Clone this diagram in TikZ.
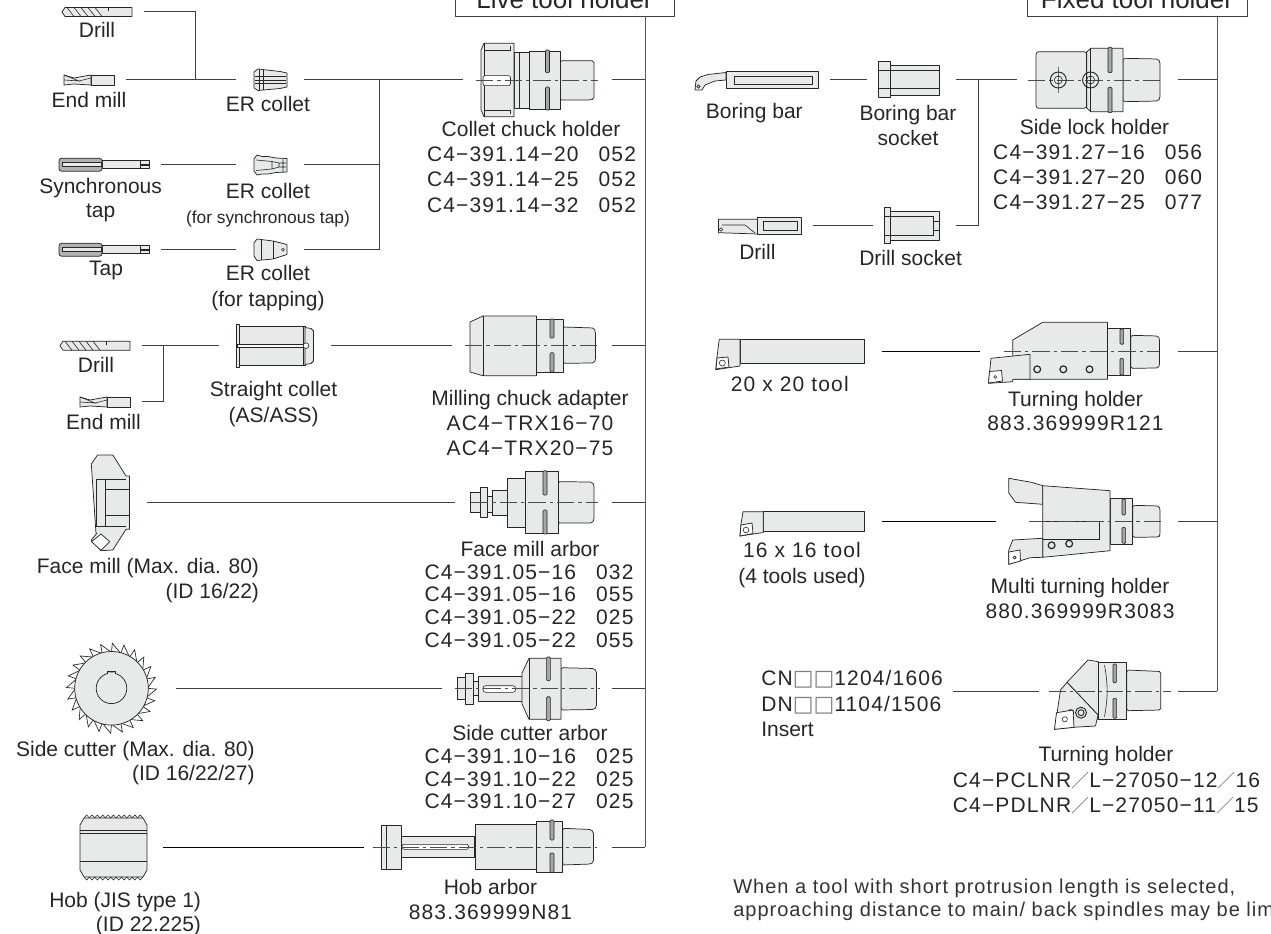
\documentclass[tikz,border=0pt]{standalone}
\usepackage{fontspec}
\setmainfont{Liberation Sans}
\newfontfamily\cjkf{Noto Sans CJK JP}
\newfontfamily\djv{DejaVu Sans}
\newfontfamily\codef[LetterSpace=5.5]{Liberation Sans}
\newfontfamily\notef[LetterSpace=5]{Liberation Sans}
\definecolor{partfill}{HTML}{E8EAEA}
\definecolor{inkc}{HTML}{262626}
\tikzset{
  part/.style={draw=inkc,fill=partfill,line width=.55pt,line join=round},
  edge/.style={draw=inkc,line width=.45pt},
  slot/.style={draw=inkc,fill=black!35,line width=.45pt,rounded corners=.8pt},
  cl/.style={draw=black!70,line width=.5pt,dash pattern=on 13pt off 3pt on 2.5pt off 3pt},
  conn/.style={draw=black!75,line width=.75pt},
  trunk/.style={draw=black!65,line width=.9pt},
  hubn/.style={inner sep=0pt,outer sep=0pt,minimum height=0pt,draw=none,fill=none},
  lab/.style={inner sep=0pt,outer sep=0pt,text=black!85},
  hdr/.style={draw=black!75,line width=.6pt,anchor=south,text height=30pt,text depth=5.6pt,inner ysep=0pt,inner xsep=0pt,font=\fontsize{19.5}{22}\selectfont,text=black!85}
}
\newcommand\Hub[4]{\node[hubn,minimum width={(#3-#2)*0.75pt}] (#1) at ({(#2+#3)/2},#4) {};}
\newcommand\Lab[5][center]{\node[lab,align=#1,font=\fontsize{15.75}{#2}\selectfont] (#3) at #4 {#5};}
\newcommand\Cd[2]{{\codef #1\hspace{.95em}#2}}
\newcommand\Cf[1]{{\codef #1}}
\newcommand\Sl{{\cjkf\fontsize{13.5}{14}\selectfont\color{black!55}／}}
\newcommand\Sq{{\djv\fontsize{16.5}{18}\selectfont\color{black!50}□}}
\newcommand\DrillIcon[1]{\begin{scope}[shift={#1}]
  \path[part] (0,0)--(3,-4.5)--(70,-4.5)--(70,4.5)--(3,4.5)--cycle;
  \foreach \a in {5,12,19,26,33}{\draw[edge] (\a,-4.5)--(\a+7,4.5);}
  \draw[edge] (46,-4.5)--(46,-1);
\end{scope}}
\newcommand\MillIcon[1]{\begin{scope}[shift={#1}]
  \path[part] (27,-5) rectangle (50,5);
  \path[part] (0,-5)--(10,-2)--(27,-5)--(27,5)--(10,4)--(0,5)--cycle;
  \draw[edge] (0,-5)--(15,1)--(0,0);
  \draw[edge] (15,1)--(27,-2);
\end{scope}}
\newcommand\TapIcon[1]{\begin{scope}[shift={#1}]
  \path[part] (43,-4) rectangle (90,4);
  \path[part,rounded corners=2pt,fill=black!30] (0,-6.5) rectangle (43,6.5);
  \path[part,fill=partfill] (3,-2) rectangle (42,2);
  \draw[edge] (81,-4)--(81,4);
  \path[part,fill=black!60] (81,-.7) rectangle (90,.7);
\end{scope}}
\begin{document}
\begin{tikzpicture}[x=0.75pt,y=-0.75pt]
\useasboundingbox (0,0) rectangle (1271,934);
\clip (0,0) rectangle (1271,934);
\fill[white] (0,0) rectangle (1271,934);
%% ---------- hubs
\Hub{drillA}{60}{143.5}{12}
\Hub{millA}{60}{126}{80}
\Hub{colletA}{236}{304}{80}
\Hub{tapA}{59}{161}{164.7}
\Hub{colletB}{236}{304}{164.7}
\Hub{tapB}{59}{161}{249.7}
\Hub{colletC}{236}{304}{249.7}
\Hub{chuck}{463}{611.5}{80}
\Hub{drillB}{60}{141.5}{345.7}
\Hub{millB}{80}{141.5}{401.7}
\Hub{scollet}{219}{331}{345.7}
\Hub{adapter}{452}{611.5}{345.7}
\Hub{fmill}{91}{146.5}{502.3}
\Hub{fmarbor}{454.5}{611.5}{502.3}
\Hub{scut}{67}{176}{688.3}
\Hub{scarbor}{442}{611.5}{688.3}
\Hub{hob}{80}{163}{847}
\Hub{hobarbor}{364}{611.5}{847}
\Hub{bbar}{695}{829.5}{80}
\Hub{bsock}{867.3}{955.8}{80}
\Hub{slock}{1016.6}{1177.5}{80}
\Hub{drillC}{718.5}{812.8}{225.7}
\Hub{dsock}{873}{955.8}{225.7}
\Hub{toolT}{719}{881.7}{351.3}
\Hub{tholder}{979.6}{1177.5}{351.3}
\Hub{toolS}{740}{881.7}{521}
\Hub{mholder}{996}{1177.5}{521}
\Hub{insert}{761}{953}{691}
\Hub{pholder}{1038.8}{1178.3}{691}
\coordinate (liveEnd) at (645.3,847);
\coordinate (fixEnd) at (1217.3,691);
\coordinate (jA) at (195.7,80);
\coordinate (jB) at (379,80);
\coordinate (jC) at (163,345.7);
\coordinate (jD) at (978.8,80);
%% ---------- headers
\node[hdr,minimum width=164.25pt] (liveBox) at (564.5,16.5) {Live tool holder};
\node[hdr,minimum width=165pt] (fixBox) at (1137,16.7) {Fixed tool holder};
%% ---------- connectors
\draw[trunk] (liveBox.south -| liveEnd) -- (liveEnd);
\draw[trunk] (fixBox.south -| fixEnd) -- (fixEnd);
\draw[conn] (hobarbor.east) -- (liveEnd);
\draw[conn] (pholder.east) -- (fixEnd);
\draw[conn] (drillA.east) -| (jA);
\draw[conn] (millA.east) -- (colletA.west);
\draw[conn] (colletA.east) -- (chuck.west);
\draw[conn] (chuck.east) -- (chuck.east -| liveEnd);
\draw[conn] (tapA.east) -- (colletB.west);
\draw[conn] (tapB.east) -- (colletC.west);
\draw[conn] (colletB.east) -- (colletB.east -| jB);
\draw[conn] (colletC.east) -| (jB);
\draw[conn] (drillB.east) -- (scollet.west);
\draw[conn] (millB.east) -| (jC);
\draw[conn] (scollet.east) -- (adapter.west);
\draw[conn] (adapter.east) -- (adapter.east -| liveEnd);
\draw[conn] (fmill.east) -- (fmarbor.west);
\draw[conn] (fmarbor.east) -- (fmarbor.east -| liveEnd);
\draw[conn] (scut.east) -- (scarbor.west);
\draw[conn] (scarbor.east) -- (scarbor.east -| liveEnd);
\draw[conn,draw=black] (hob.east) -- (hobarbor.west);
\draw[conn] (bbar.east) -- (bsock.west);
\draw[conn] (bsock.east) -- (slock.west);
\draw[conn] (slock.east) -- (slock.east -| fixEnd);
\draw[conn] (drillC.east) -- (dsock.west);
\draw[conn] (dsock.east) -| (jD);
\draw[conn,draw=black] (toolT.east) -- (tholder.west);
\draw[conn] (tholder.east) -- (tholder.east -| fixEnd);
\draw[conn,draw=black] (toolS.east) -- (mholder.west);
\draw[conn] (mholder.east) -- (mholder.east -| fixEnd);
\draw[conn] (insert.east) -- (pholder.west);
%% ---------- left tools
\DrillIcon{(62,12)}
\MillIcon{(64,80)}
\TapIcon{(59,164.7)}
\TapIcon{(59,249.7)}
\DrillIcon{(60,345.7)}
\MillIcon{(80,402)}
% ER collets
\path[part] (254,72)--(258,69)--(280,71.5)--(287,73)--(287,87)--(280,88.5)--(258,90.5)--(254,88)--cycle;
\draw[edge] (255,76.5)--(286,76.5) (255,80)--(286,80) (255,83.5)--(286,83.5) (259,69.5)--(259,90) (263,70)--(263,90);
\path[part] (254,159)--(257,155)--(262,156.5)--(268,156.5)--(276,158)--(287,158.5)--(287,172)--(276,172.5)--(268,174)--(262,174)--(257,175)--(254,171)--cycle;
\draw[edge] (256,160)--(272,161.5)--(279,163)--(279,167)--(272,169)--(256,170.5) (272,161.5)--(272,169) (279,163)--(286,163) (279,167)--(286,167) (283,159)--(283,172);
\path[part] (254,243)--(257,239)--(273,241)--(287,244.5)--(287,254.5)--(273,259)--(257,260.5)--(254,256)--cycle;
\draw[edge] (261,240)--(261,260) (273,241)--(273,259);
\draw[edge] (283,249.7) circle[radius=1.5];
% straight collet
\path[part] (239.5,326.7) rectangle (305,365);
\path[part] (305,327.5)--(311,328.5)--(313.5,331)--(313.5,361)--(311,363.5)--(305,364.5)--cycle;
\path[part] (236.5,324.7) rectangle (239.5,367.3);
\draw[edge,fill=white] (237,344.5) rectangle (303,347);
\draw[edge,fill=white] (306,345.7) circle[radius=2.8];
\draw[edge] (303,327)--(303,344.5) (303,347)--(303,365);
% face mill
\path[part] (91.3,464)--(97.6,455)--(112.8,455)--(126,476)--(129.6,476)--(129.6,529.3)--(126,529.3)--(112.8,550)--(101,550.7)--(91.3,540)--(96.8,533.3)--(96,533.3)--cycle;
\draw[edge] (96,479.3) rectangle (105.2,526);
\draw[edge] (105.2,489.3)--(129.6,489.3) (105.2,515.7)--(129.6,515.7) (105.2,479.3)--(126,479.3) (105.2,526)--(126,526);
\draw[part,fill=white] (101,534)--(109.7,541.7)--(101,550.3)--(91.5,541.7)--cycle;
% side cutter
\begin{scope}[shift={(111.5,688.3)}]
  \foreach \a in {0,15,...,345}{\draw[draw=inkc,line width=.5pt,fill=white] (\a:36)--(\a+1:45)--(\a+15:36);}
  \path[part] (0,0) circle[radius=36.8];
  \path[part] (-4,-14) -- (-4,-16.5) -- (4,-16.5) -- (4,-14) -- (0,-12) -- cycle;
  \path[part] (0,0) circle[radius=15.3];
  \path[fill=partfill] (-3.6,-13) rectangle (3.6,-15.8);
  \draw[edge] (-3.9,-14.6)--(-3.9,-16.8)--(3.9,-16.8)--(3.9,-14.6);
\end{scope}
% hob
\path[part] (80,825)--(84,818)--(143,818)--(147,825)--(147,870)--(143,877)--(84,877)--(80,870)--cycle;
\foreach \i in {0,...,10}{\draw[edge] ({84+5.36*\i},818)--+(2.68,-3)--+(5.36,0); \draw[edge] ({84+5.36*\i},877)--+(2.68,3)--+(5.36,0);}
\draw[edge,line width=.6pt] (80,830)--(147,830) (80,833.3)--(147,833.3);
\draw[edge,line width=.7pt] (80,861.7)--(147,861.7);
%% ---------- collet chuck holder
\path[part,rounded corners=1.2pt] (594,61)--(594,99)--(590,100)--(560,100)--(560,60.7)--(590,60.7)--cycle;
\path[part] (529,51) rectangle (560,109);
\path[part] (514,52) rectangle (529,108);
\draw[edge] (519,52)--(519,108);
\path[part] (481,50)--(484,43.3)--(514,43.3)--(514,116.7)--(484,116.7)--(481,110)--cycle;
\draw[edge] (484,43.3)--(484,116.7) (484,50)--(510.5,50)--(510.5,46) (484,110)--(510.5,110)--(510.5,114);
\draw[edge,fill=white,rounded corners=1.5pt] (483,75.7) rectangle (510.5,85.7);
\path[slot] (545.5,50) rectangle (549.5,72.7);
\path[slot] (545.5,87) rectangle (549.5,110);
\draw[cl] (476,80)--(598,80);
%% ---------- milling chuck adapter
\path[part,rounded corners=1.2pt] (563,327)--(594,328)--(595.5,332)--(595.5,360)--(594,363)--(563,363.3)--cycle;
\path[part] (536.6,319) rectangle (563,372);
\path[part] (470,322)--(483,316)--(536.6,316)--(536.6,375.7)--(483,375.7)--(470,372)--cycle;
\draw[edge] (483,316)--(483,375.7);
\path[slot] (550,319) rectangle (554,338);
\path[slot] (550,352.7) rectangle (554,372);
\draw[cl] (465,345.7)--(598,345.7);
%% ---------- face mill arbor
\path[part,rounded corners=1.2pt] (558,481.7)--(592,482)--(594,485)--(594,520)--(592,523)--(558,523)--cycle;
\path[part] (492,490) rectangle (507,515);
\path[part] (507,478) rectangle (525,527);
\path[part] (525,471.7) rectangle (558,533);
\path[part] (470.5,492.7) rectangle (480,512.3);
\path[part] (480,487.7) rectangle (487,517.7);
\path[part] (487,496) rectangle (492,512);
\path[slot] (543,470.7) rectangle (547,495);
\path[slot] (543,510) rectangle (547,534);
\draw[cl] (471,502.3)--(598,502.3);
%% ---------- side cutter arbor
\path[part,rounded corners=1.2pt] (561,667.7)--(594,668.5)--(596.4,671)--(596.4,707)--(594,709.5)--(561,710)--cycle;
\path[part] (478.5,676) rectangle (522,701);
\path[part] (522,673)--(529,658.3)--(561,658.3)--(561,719.3)--(529,719.3)--(522,704)--cycle;
\draw[edge] (529,658.3)--(529,719.3);
\path[part] (473.5,681.7) rectangle (478.5,695);
\path[part] (465,673) rectangle (473.5,704);
\path[part] (457.5,677.7) rectangle (465,699.3);
\draw[edge,fill=white,rounded corners=2pt] (483,685.7) rectangle (515.6,692.3);
\path[slot] (546.4,657) rectangle (550.4,680.7);
\path[slot] (546.4,696.7) rectangle (550.4,720.7);
\draw[cl] (454.5,688.3)--(600,688.3);
%% ---------- hob arbor
\path[part,rounded corners=1.2pt] (562.7,828.3)--(591,829.5)--(593.4,832)--(593.4,862)--(591,864)--(562.7,865)--cycle;
\path[part] (401,836.7) rectangle (474.3,857.3);
\path[part] (381.7,825) rectangle (401,869);
\draw[edge] (386,825)--(386,869);
\path[part] (475.6,824.3) rectangle (536.6,869.3);
\path[part] (536.6,821) rectangle (562.7,872.3);
\draw[edge,fill=white,rounded corners=1.5pt] (402,844.3) rectangle (468.5,849.3);
\path[slot] (550,820) rectangle (554,840);
\path[slot] (550,853) rectangle (554,872.3);
\draw[cl] (372.5,847)--(597,847);
%% ---------- boring bar + sockets
\path[part] (726,71.7) rectangle (818,88.3);
\draw[edge] (734,76) rectangle (812,84);
\path[part] (726,72.5)--(708,74.5)--(700,77)--(696,81)--(695,90)--(702,90)--(705,85)--(715,81)--(726,80)--cycle;
\draw[edge] (698.5,86.5) circle[radius=1.6];
\path[part] (890,65) rectangle (939,95);
\path[part] (878,61.7)--(890,61.7)--(890,97.7)--(878,97.7)--cycle;
\draw[edge] (878,70.7)--(939,70.7) (878,88.7)--(939,88.7);
\path[part] (757.4,217.3) rectangle (801,234.3);
\draw[edge] (763,221.7) rectangle (797,230);
\path[part] (718.5,219.3)--(757.4,219.3)--(757.4,234)--(718.5,232.7)--cycle;
\draw[edge] (722,225)--(745,225)--(755,233);
\draw[edge] (721,229.5) circle[radius=1.8];
\path[part] (884.5,207.7) rectangle (890.7,243.3);
\path[part] (890.7,211) rectangle (939,240.7);
\draw[edge] (884.5,216.7)--(932.8,216.7)--(932.8,235)--(884.5,235);
\draw[edge] (932.8,221.7)--(939,221.7) (932.8,230)--(939,230);
%% ---------- side lock holder
\path[part,rounded corners=1.2pt] (1123,58.3)--(1158,59)--(1160,62)--(1160,98)--(1158,101)--(1123,101.7)--cycle;
\path[part,rounded corners=2pt] (1036,51.7)--(1086.7,51.7)--(1086.7,108.3)--(1036,108.3)--cycle;
\path[part] (1086.7,52)--(1090.6,48.3)--(1123,48.3)--(1123,111.7)--(1090.6,111.7)--(1086.7,108)--cycle;
\draw[edge] (1086.7,52)--(1086.7,108) (1090.6,48.3)--(1090.6,111.7);
\path[slot] (1108,47.3) rectangle (1112,72.7);
\path[slot] (1108,87.3) rectangle (1112,112.7);
\draw[cl] (1028,80)--(1163,80);
\draw[draw=inkc,line width=.7pt,fill=none] (1058.3,80) circle[radius=8] (1090.6,80) circle[radius=8];
\draw[edge] (1058.3,80) circle[radius=4] (1090.6,80) circle[radius=4] (1058.3,67)--(1058.3,93) (1090.6,67)--(1090.6,93);
%% ---------- 20x20 tool
\path[part] (740,339.3) rectangle (864.6,363.7);
\path[part] (719.2,339.3)--(740,339.3)--(740,366)--(715.7,369.7)--(717,357)--cycle;
\path[part,fill=white] (717,358)--(728,357)--(729,367)--(716,369)--cycle;
\draw[edge] (722.3,363) circle[radius=3];
%% turning holder
\path[part,rounded corners=1.2pt] (1130.8,335.3)--(1158,336)--(1159.6,339)--(1159.6,365)--(1158,368)--(1130.8,368.3)--cycle;
\path[part] (1107.4,328.3) rectangle (1130.8,375);
\path[part] (1012.7,340)--(1042.7,322.3)--(1107.4,322.3)--(1107.4,379.3)--(1012.7,379.3)--cycle;
\path[part] (991,358.3)--(1030,354.3)--(1030,379.3)--(1012.7,379.3)--(1012.7,381.7)--(988.5,383.3)--cycle;
\path[part,fill=white] (989.5,371.5)--(1001.5,370.5)--(1002.5,381)--(988.5,383)--cycle;
\draw[edge] (995.2,377) circle[radius=1.5];
\foreach \x in {1037.2,1063.3,1089.5}{\draw[draw=inkc,line width=.9pt,fill=partfill] (\x,369.3) circle[radius=3.4];}
\path[slot] (1120,329) rectangle (1123.6,344.3);
\path[slot] (1120,358.3) rectangle (1123.6,375);
\draw[cl] (1003.7,351.3)--(1159,351.3);
%% ---------- 16x16 tool
\path[part] (763.3,511.7) rectangle (864.6,531);
\path[part] (743,511.7)--(763.3,511.7)--(763.3,532.5)--(739.9,536)--(741,524)--cycle;
\path[part,fill=white] (741,525)--(752,523)--(753,533.5)--(740,536)--cycle;
\draw[edge] (746,530) circle[radius=2.8];
%% multi turning holder
\path[part,rounded corners=1.2pt] (1132.7,505.3)--(1159,506)--(1160,509)--(1160,535)--(1159,537)--(1132.7,537.3)--cycle;
\path[part] (1110,498.3) rectangle (1132.7,544);
\path[part] (1008.8,478.3)--(1031.4,482.3)--(1042.7,485.7)--(1042.7,504.3)--(1015.4,502.3)--(1008.8,493)--cycle;
\path[part] (1042.7,485.7)--(1110,490.7)--(1110,550.7)--(1042.7,557.3)--cycle;
\draw[edge] (1029,521)--(1099.7,521)--(1099.7,539.3)--(1042.7,539.3);
\path[part] (1042.7,538.3)--(1012.7,540)--(1008.8,550)--(1008.8,564.3)--(1030.2,557.7)--(1042.7,557.3)--cycle;
\path[part,fill=white] (1008.8,552)--(1020,550)--(1020.5,561)--(1008.8,564.3)--cycle;
\draw[edge] (1014.6,557.5) circle[radius=1.5];
\draw[cl] (1029,521)--(1160.8,521);
\foreach \x/\y in {1051.6/545.3,1069.2/543.7}{\draw[draw=inkc,line width=.9pt,fill=partfill] (\x,\y) circle[radius=3.4];}
\path[slot] (1122,499) rectangle (1125.6,515);
\path[slot] (1122,527.3) rectangle (1125.6,543.3);
%% ---------- small turning holder
\path[part,rounded corners=1.2pt] (1126.8,670)--(1160.8,671.5)--(1160.8,710)--(1126.8,710.7)--cycle;
\path[part] (1098.4,662.7) rectangle (1126.8,719.3);
\path[part] (1067,682.3)--(1088,660)--(1098.4,661.7)--(1098.4,719.3)--(1096,719.3)--(1098,715)--cycle;
\draw[edge] (1104.5,665) to[bend left=10] (1104.5,716.7);
\path[slot] (1113,664) rectangle (1116.6,682.7);
\path[slot] (1113,698.3) rectangle (1116.6,718.3);
\path[part] (1067,682.3)--(1060.5,690)--(1057.5,710)--(1054.5,729.3)--(1073,727.3)--(1095.5,726)--(1098,715)--cycle;
\draw[edge,line width=.7pt] (1070.7,712.7) circle[radius=3] (1081,712.7) circle[radius=5.5] (1081,712.7) circle[radius=3];
\path[part,fill=white] (1056.5,712.7)--(1073,710)--(1074,727.3)--(1054.5,729.3)--cycle;
\draw[edge] (1064.8,719.3) circle[radius=2.6];
\draw[cl] (1048.5,691)--(1170.5,691);
%% ---------- labels
\Lab{19}{lDrillA}{(97,30)}{Drill}
\Lab{19}{lMillA}{(89,100)}{End mill}
\Lab{19}{lCollA}{(268,104)}{ER collet}
\Lab{18}{lSync}{(100.6,200.5)}{Synchronous\\tap}
\Lab{19}{lCollB}{(268,205)}{ER collet\\{\fontsize{13}{14}\selectfont (for synchronous tap)}}
\Lab{19}{lTap}{(106,270.5)}{Tap}
\Lab{19.5}{lCollC}{(268,288)}{ER collet\\(for tapping)}
\Lab{19}{lChuck}{(531,129)}{Collet chuck holder}
\Lab{19}{lChuckN}{(531.5,179.5)}{\Cd{C4−391.14−20}{052}\\\Cd{C4−391.14−25}{052}\\\Cd{C4−391.14−32}{052}}
\Lab{19}{lDrillB}{(96,365)}{Drill}
\Lab{19}{lMillB}{(103.5,421.7)}{End mill}
\Lab{19}{lSColl}{(273.6,404)}{Straight collet\\(AS/ASS)}
\Lab{19}{lAdapt}{(530,423)}{Milling chuck adapter\\\Cf{AC4−TRX16−70}\\\Cf{AC4−TRX20−75}}
\node[lab,align=right,anchor=east,font=\fontsize{15.75}{18.75}\selectfont] (lFMill) at (259,580.7) {Face mill (Max. dia. 80)\\(ID 16/22)};
\Lab{19}{lFArb}{(530,549)}{Face mill arbor}
\Lab{17}{lFArbN}{(529,606)}{\Cd{C4−391.05−16}{032}\\\Cd{C4−391.05−16}{055}\\\Cd{C4−391.05−22}{025}\\\Cd{C4−391.05−22}{055}}
\node[lab,align=right,anchor=east,font=\fontsize{15.75}{18.25}\selectfont] (lSCut) at (254.6,763) {Side cutter (Max. dia. 80)\\(ID 16/22/27)};
\Lab{19}{lSArb}{(530,733.3)}{Side cutter arbor}
\Lab{17}{lSArbN}{(529,779)}{\Cd{C4−391.10−16}{025}\\\Cd{C4−391.10−22}{025}\\\Cd{C4−391.10−27}{025}}
\node[lab,align=right,anchor=east,font=\fontsize{15.75}{18.5}\selectfont] (lHob) at (201,914) {Hob (JIS type 1)\\(ID 22.225)};
\Lab{18.75}{lHArb}{(490.5,899)}{Hob arbor\\\Cf{883.369999N81}}
\Lab{19}{lBBar}{(754.3,113)}{Boring bar}
\Lab{18.75}{lBSock}{(908,125)}{Boring bar\\socket}
\Lab{19}{lDrillC}{(757.4,252.3)}{Drill}
\Lab{19}{lDSock}{(910.6,258.3)}{Drill socket}
\Lab{19}{lSLock}{(1094.5,126.7)}{Side lock holder}
\Lab{18.6}{lSLockN}{(1097.7,177.5)}{\Cd{C4−391.27−16}{056}\\\Cd{C4−391.27−20}{060}\\\Cd{C4−391.27−25}{077}}
\Lab{19}{lT20}{(789.8,384.3)}{\Cf{20 x 20 tool}}
\Lab{18.5}{lTH}{(1075.5,411)}{Turning holder\\\Cf{883.369999R121}}
\Lab{19.2}{lT16}{(802,565)}{\Cf{16 x 16 tool}\\(4 tools used)}
\Lab{19}{lMT}{(1080,598.5)}{Multi turning holder\\\Cf{880.369999R3083}}
\node[lab,align=left,anchor=west,font=\fontsize{15.75}{19.3}\selectfont] (lIns) at (761.3,703.5) {\Cf{CN}\Sq\Sq\Cf{1204/1606}\\\Cf{DN}\Sq\Sq\Cf{1104/1506}\\Insert};
\Lab{19}{lPTH}{(1106,755.7)}{Turning holder}
\Lab[left]{18.3}{lPTHN}{(1106.5,793)}{\Cf{C4−PCLNR}\Sl\Cf{L−27050−12}\Sl\Cf{16}\\\Cf{C4−PDLNR}\Sl\Cf{L−27050−11}\Sl\Cf{15}}
\node[lab,align=left,anchor=west,text=black!80,font=\fontsize{15}{17}\selectfont] (lNote) at (733.3,899.7) {\notef When a tool with short protrusion length is selected,\\\notef approaching distance to main/ back spindles may be lim};
\end{tikzpicture}
\end{document}
